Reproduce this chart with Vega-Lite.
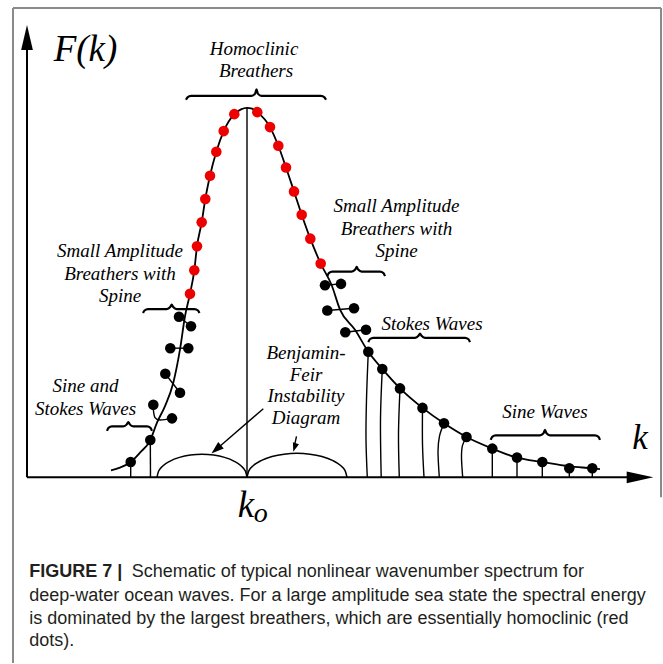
{
  "$schema": "https://vega.github.io/schema/vega-lite/v6.json",
  "width": 663,
  "height": 664,
  "autosize": {"type": "fit", "contains": "padding"},
  "padding": 0,
  "background": "white",
  "config": {"view": {"stroke": null}},
  "encoding": {
    "x": {"field": "k", "type": "quantitative", "scale": {"domain": [-2.7, 63.6], "nice": false, "zero": false}, "axis": null},
    "y": {"field": "F", "type": "quantitative", "scale": {"domain": [-18.6, 47.8], "nice": false, "zero": false}, "axis": null}
  },
  "layer": [
    {
      "data": {"values": [
        {"k": -1.4, "F": 47.0, "k2": -1.4, "F2": -18.6},
        {"k": -1.4, "F": 47.0, "k2": 63.4, "F2": 47.0},
        {"k": 63.4, "F": 47.0, "k2": 63.4, "F2": -2.0}
      ]},
      "mark": {"type": "rule", "color": "#8a8a8a", "strokeWidth": 2},
      "encoding": {"x2": {"field": "k2"}, "y2": {"field": "F2"}}
    },
    {
      "data": {"values": [
        {"k": 0, "F": 0, "k2": 0, "F2": 43.5},
        {"k": 0, "F": 0, "k2": 60.5, "F2": 0}
      ]},
      "mark": {"type": "rule", "color": "black", "strokeWidth": 2},
      "encoding": {"x2": {"field": "k2"}, "y2": {"field": "F2"}}
    },
    {
      "data": {"values": [
        {"k": 22, "F": 0, "k2": 22, "F2": 37},
        {"k": 10.37, "F": 0, "k2": 10.37, "F2": 1.53},
        {"k": 12.35, "F": 0, "k2": 12.33, "F2": 3.73},
        {"k": 46.53, "F": 0, "k2": 46.53, "F2": 2.87},
        {"k": 49.0, "F": 0, "k2": 49.0, "F2": 1.97},
        {"k": 51.53, "F": 0, "k2": 51.53, "F2": 1.53},
        {"k": 54.23, "F": 0, "k2": 54.23, "F2": 0.9},
        {"k": 56.53, "F": 0, "k2": 56.53, "F2": 0.9},
        {"k": 15.2, "F": 16.07, "k2": 16.4, "F2": 15.13},
        {"k": 14.33, "F": 12.93, "k2": 16.13, "F2": 12.93},
        {"k": 13.83, "F": 10.37, "k2": 15.3, "F2": 8.47},
        {"k": 29.8, "F": 19.23, "k2": 31.4, "F2": 19.37},
        {"k": 30.03, "F": 16.7, "k2": 32.7, "F2": 16.93},
        {"k": 31.83, "F": 14.53, "k2": 33.9, "F2": 14.77},
        {"k": 23.63, "F": 6.87, "k2": 19.23, "F2": 3.05},
        {"k": 26.95, "F": 4.1, "k2": 26.75, "F2": 3.2}
      ]},
      "mark": {"type": "rule", "color": "black", "strokeWidth": 1.4},
      "encoding": {"x2": {"field": "k2"}, "y2": {"field": "F2"}}
    },
    {
      "data": {"values": [
        {"k": 8.4, "F": 0.7}, {"k": 9.3, "F": 0.97}, {"k": 10.37, "F": 1.53}, {"k": 11.3, "F": 2.47},
        {"k": 12.33, "F": 3.73}, {"k": 13.0, "F": 5.47}, {"k": 13.8, "F": 7.13}, {"k": 14.63, "F": 9.47},
        {"k": 15.3, "F": 12.8}, {"k": 15.8, "F": 16.13}, {"k": 16.3, "F": 18.37}, {"k": 16.73, "F": 20.73},
        {"k": 17.0, "F": 23.13}, {"k": 17.47, "F": 25.53}, {"k": 17.83, "F": 27.87}, {"k": 18.3, "F": 30.2},
        {"k": 18.93, "F": 32.6}, {"k": 19.67, "F": 34.67}, {"k": 20.73, "F": 36.37}, {"k": 21.4, "F": 36.85},
        {"k": 22.0, "F": 37.0}, {"k": 22.5, "F": 36.92}, {"k": 23.03, "F": 36.57}, {"k": 24.3, "F": 35.07},
        {"k": 25.13, "F": 33.2}, {"k": 25.9, "F": 31.03}, {"k": 26.7, "F": 28.63}, {"k": 27.47, "F": 26.3},
        {"k": 28.33, "F": 23.9}, {"k": 29.37, "F": 21.4}, {"k": 30.47, "F": 19.23}, {"k": 31.3, "F": 16.8},
        {"k": 32.8, "F": 14.77}, {"k": 34.13, "F": 12.57}, {"k": 35.53, "F": 10.85}, {"k": 37.3, "F": 8.9},
        {"k": 39.55, "F": 6.95}, {"k": 41.7, "F": 5.4}, {"k": 43.95, "F": 4.03}, {"k": 46.53, "F": 2.87},
        {"k": 49.0, "F": 1.97}, {"k": 51.53, "F": 1.53}, {"k": 54.23, "F": 1.1}, {"k": 56.53, "F": 0.9},
        {"k": 57.3, "F": 0.82}
      ]},
      "mark": {"type": "line", "color": "black", "strokeWidth": 1.8, "interpolate": "monotone"}
    },
    {
      "data": {"values": [
        {"id": "A", "i": 0, "k": 15.9, "F": 37.8}, {"id": "A", "i": 1, "k": 16.05, "F": 38.05}, {"id": "A", "i": 2, "k": 16.4, "F": 38.2},
        {"id": "A", "i": 3, "k": 22.45, "F": 38.2}, {"id": "A", "i": 4, "k": 22.8, "F": 38.4}, {"id": "A", "i": 5, "k": 22.95, "F": 38.85},
        {"id": "A", "i": 6, "k": 23.1, "F": 38.4}, {"id": "A", "i": 7, "k": 23.45, "F": 38.2}, {"id": "A", "i": 8, "k": 29.4, "F": 38.2},
        {"id": "A", "i": 9, "k": 29.75, "F": 38.05}, {"id": "A", "i": 10, "k": 29.9, "F": 37.8},
        {"id": "B", "i": 0, "k": 11.6, "F": 16.45}, {"id": "B", "i": 1, "k": 11.75, "F": 16.7}, {"id": "B", "i": 2, "k": 12.1, "F": 16.85},
        {"id": "B", "i": 3, "k": 13.97, "F": 16.85}, {"id": "B", "i": 4, "k": 14.32, "F": 17.05}, {"id": "B", "i": 5, "k": 14.47, "F": 17.3},
        {"id": "B", "i": 6, "k": 14.62, "F": 17.05}, {"id": "B", "i": 7, "k": 14.97, "F": 16.85}, {"id": "B", "i": 8, "k": 16.75, "F": 16.85},
        {"id": "B", "i": 9, "k": 17.1, "F": 16.7}, {"id": "B", "i": 10, "k": 17.25, "F": 16.45},
        {"id": "C", "i": 0, "k": 8.0, "F": 4.65}, {"id": "C", "i": 1, "k": 8.15, "F": 4.95}, {"id": "C", "i": 2, "k": 8.5, "F": 5.1},
        {"id": "C", "i": 3, "k": 9.63, "F": 5.1}, {"id": "C", "i": 4, "k": 9.98, "F": 5.3}, {"id": "C", "i": 5, "k": 10.13, "F": 5.53},
        {"id": "C", "i": 6, "k": 10.28, "F": 5.3}, {"id": "C", "i": 7, "k": 10.63, "F": 5.1}, {"id": "C", "i": 8, "k": 12.0, "F": 5.1},
        {"id": "C", "i": 9, "k": 12.35, "F": 4.95}, {"id": "C", "i": 10, "k": 12.5, "F": 4.65},
        {"id": "D", "i": 0, "k": 30.03, "F": 20.15}, {"id": "D", "i": 1, "k": 30.18, "F": 20.45}, {"id": "D", "i": 2, "k": 30.53, "F": 20.6},
        {"id": "D", "i": 3, "k": 32.47, "F": 20.6}, {"id": "D", "i": 4, "k": 32.82, "F": 20.8}, {"id": "D", "i": 5, "k": 32.97, "F": 21.07},
        {"id": "D", "i": 6, "k": 33.12, "F": 20.8}, {"id": "D", "i": 7, "k": 33.47, "F": 20.6}, {"id": "D", "i": 8, "k": 35.3, "F": 20.6},
        {"id": "D", "i": 9, "k": 35.65, "F": 20.45}, {"id": "D", "i": 10, "k": 35.8, "F": 20.15},
        {"id": "E", "i": 0, "k": 34.13, "F": 13.53}, {"id": "E", "i": 1, "k": 34.28, "F": 13.82}, {"id": "E", "i": 2, "k": 34.63, "F": 13.97},
        {"id": "E", "i": 3, "k": 38.8, "F": 13.97}, {"id": "E", "i": 4, "k": 39.15, "F": 14.17}, {"id": "E", "i": 5, "k": 39.3, "F": 14.4},
        {"id": "E", "i": 6, "k": 39.45, "F": 14.17}, {"id": "E", "i": 7, "k": 39.8, "F": 13.97}, {"id": "E", "i": 8, "k": 43.8, "F": 13.97},
        {"id": "E", "i": 9, "k": 44.15, "F": 13.82}, {"id": "E", "i": 10, "k": 44.3, "F": 13.53},
        {"id": "G", "i": 0, "k": 46.37, "F": 3.75}, {"id": "G", "i": 1, "k": 46.52, "F": 4.05}, {"id": "G", "i": 2, "k": 46.87, "F": 4.2},
        {"id": "G", "i": 3, "k": 51.3, "F": 4.2}, {"id": "G", "i": 4, "k": 51.65, "F": 4.4}, {"id": "G", "i": 5, "k": 51.8, "F": 4.75},
        {"id": "G", "i": 6, "k": 51.95, "F": 4.4}, {"id": "G", "i": 7, "k": 52.3, "F": 4.2}, {"id": "G", "i": 8, "k": 56.8, "F": 4.2},
        {"id": "G", "i": 9, "k": 57.15, "F": 4.05}, {"id": "G", "i": 10, "k": 57.3, "F": 3.75}
      ]},
      "mark": {"type": "line", "color": "black", "strokeWidth": 2.2, "interpolate": "monotone"},
      "encoding": {"detail": {"field": "id"}, "order": {"field": "i"}}
    },
    {
      "data": {"values": [
        {"id": "L", "i": 0, "k": 13.0, "F": 0}, {"id": "L", "i": 1, "k": 13.153, "F": 0.595}, {"id": "L", "i": 2, "k": 13.603, "F": 1.15},
        {"id": "L", "i": 3, "k": 14.318, "F": 1.626}, {"id": "L", "i": 4, "k": 15.25, "F": 1.992}, {"id": "L", "i": 5, "k": 16.335, "F": 2.222},
        {"id": "L", "i": 6, "k": 17.5, "F": 2.3}, {"id": "L", "i": 7, "k": 18.665, "F": 2.222}, {"id": "L", "i": 8, "k": 19.75, "F": 1.992},
        {"id": "L", "i": 9, "k": 20.682, "F": 1.626}, {"id": "L", "i": 10, "k": 21.397, "F": 1.15}, {"id": "L", "i": 11, "k": 21.847, "F": 0.595},
        {"id": "L", "i": 12, "k": 22.0, "F": 0},
        {"id": "R", "i": 0, "k": 22.0, "F": 0}, {"id": "R", "i": 1, "k": 22.17, "F": 0.621}, {"id": "R", "i": 2, "k": 22.67, "F": 1.2},
        {"id": "R", "i": 3, "k": 23.464, "F": 1.697}, {"id": "R", "i": 4, "k": 24.5, "F": 2.078}, {"id": "R", "i": 5, "k": 25.706, "F": 2.318},
        {"id": "R", "i": 6, "k": 27.0, "F": 2.4}, {"id": "R", "i": 7, "k": 28.294, "F": 2.318}, {"id": "R", "i": 8, "k": 29.5, "F": 2.078},
        {"id": "R", "i": 9, "k": 30.536, "F": 1.697}, {"id": "R", "i": 10, "k": 31.33, "F": 1.2}, {"id": "R", "i": 11, "k": 31.83, "F": 0.621},
        {"id": "R", "i": 12, "k": 32.0, "F": 0}
      ]},
      "mark": {"type": "line", "color": "black", "strokeWidth": 1.5, "interpolate": "monotone"},
      "encoding": {"detail": {"field": "id"}, "order": {"field": "i"}}
    },
    {
      "data": {"values": [
        {"id": "s1", "i": 0, "k": 34.13, "F": 12.57}, {"id": "s1", "i": 1, "k": 33.95, "F": 7.8}, {"id": "s1", "i": 2, "k": 33.9, "F": 3.8}, {"id": "s1", "i": 3, "k": 34.03, "F": 0},
        {"id": "s2", "i": 0, "k": 35.53, "F": 10.85}, {"id": "s2", "i": 1, "k": 35.35, "F": 5.8}, {"id": "s2", "i": 2, "k": 35.42, "F": 0},
        {"id": "s3", "i": 0, "k": 37.3, "F": 8.9}, {"id": "s3", "i": 1, "k": 37.15, "F": 4.3}, {"id": "s3", "i": 2, "k": 37.23, "F": 0},
        {"id": "s4", "i": 0, "k": 39.55, "F": 6.95}, {"id": "s4", "i": 1, "k": 39.55, "F": 3.3}, {"id": "s4", "i": 2, "k": 39.7, "F": 0},
        {"id": "s5", "i": 0, "k": 41.7, "F": 5.4}, {"id": "s5", "i": 1, "k": 41.25, "F": 4.13}, {"id": "s5", "i": 2, "k": 41.1, "F": 2.6}, {"id": "s5", "i": 3, "k": 41.23, "F": 0},
        {"id": "s6", "i": 0, "k": 43.95, "F": 4.03}, {"id": "s6", "i": 1, "k": 43.55, "F": 3.2}, {"id": "s6", "i": 2, "k": 43.45, "F": 2.0}, {"id": "s6", "i": 3, "k": 43.57, "F": 0},
        {"id": "sp", "i": 0, "k": 12.63, "F": 7.27}, {"id": "sp", "i": 1, "k": 12.63, "F": 6.8}, {"id": "sp", "i": 2, "k": 12.8, "F": 5.97}, {"id": "sp", "i": 3, "k": 13.3, "F": 5.73}, {"id": "sp", "i": 4, "k": 14.5, "F": 5.9}
      ]},
      "mark": {"type": "line", "color": "black", "strokeWidth": 1.4, "interpolate": "cardinal"},
      "encoding": {"detail": {"field": "id"}, "order": {"field": "i"}}
    },
    {
      "data": {"values": [
        {"kind": "homoclinic", "k": 20.73, "F": 36.37}, {"kind": "homoclinic", "k": 19.67, "F": 34.67}, {"kind": "homoclinic", "k": 18.93, "F": 32.6},
        {"kind": "homoclinic", "k": 18.3, "F": 30.2}, {"kind": "homoclinic", "k": 17.83, "F": 27.87}, {"kind": "homoclinic", "k": 17.47, "F": 25.53},
        {"kind": "homoclinic", "k": 17.0, "F": 23.13}, {"kind": "homoclinic", "k": 16.73, "F": 20.73}, {"kind": "homoclinic", "k": 16.3, "F": 18.37},
        {"kind": "homoclinic", "k": 23.03, "F": 36.57}, {"kind": "homoclinic", "k": 24.3, "F": 35.07}, {"kind": "homoclinic", "k": 25.13, "F": 33.2},
        {"kind": "homoclinic", "k": 25.9, "F": 31.03}, {"kind": "homoclinic", "k": 26.7, "F": 28.63}, {"kind": "homoclinic", "k": 27.47, "F": 26.3},
        {"kind": "homoclinic", "k": 28.33, "F": 23.9}, {"kind": "homoclinic", "k": 29.37, "F": 21.4},
        {"kind": "other", "k": 15.2, "F": 16.07}, {"kind": "other", "k": 16.4, "F": 15.13}, {"kind": "other", "k": 14.33, "F": 12.93},
        {"kind": "other", "k": 16.13, "F": 12.93}, {"kind": "other", "k": 13.83, "F": 10.37}, {"kind": "other", "k": 15.3, "F": 8.47},
        {"kind": "other", "k": 12.63, "F": 7.27}, {"kind": "other", "k": 14.5, "F": 5.9}, {"kind": "other", "k": 12.33, "F": 3.73},
        {"kind": "other", "k": 10.37, "F": 1.53},
        {"kind": "other", "k": 29.8, "F": 19.23}, {"kind": "other", "k": 31.4, "F": 19.37}, {"kind": "other", "k": 30.03, "F": 16.7},
        {"kind": "other", "k": 32.7, "F": 16.93}, {"kind": "other", "k": 31.83, "F": 14.53}, {"kind": "other", "k": 33.9, "F": 14.77},
        {"kind": "other", "k": 34.13, "F": 12.57}, {"kind": "other", "k": 35.53, "F": 10.85}, {"kind": "other", "k": 37.3, "F": 8.9},
        {"kind": "other", "k": 39.55, "F": 6.95}, {"kind": "other", "k": 41.7, "F": 5.4}, {"kind": "other", "k": 43.95, "F": 4.03},
        {"kind": "other", "k": 46.53, "F": 2.87}, {"kind": "other", "k": 49.0, "F": 1.97}, {"kind": "other", "k": 51.53, "F": 1.53},
        {"kind": "other", "k": 54.23, "F": 0.9}, {"kind": "other", "k": 56.53, "F": 0.9}
      ]},
      "mark": {"type": "circle", "size": 112, "opacity": 1},
      "encoding": {"color": {"field": "kind", "type": "nominal", "scale": {"domain": ["homoclinic", "other"], "range": ["#ee0000", "#000000"]}, "legend": null}}
    },
    {
      "data": {"values": [{"k": 0, "F": 44.05}]},
      "mark": {"type": "point", "filled": true, "opacity": 1, "color": "black", "shape": "M0,-1L0.47,1L-0.47,1Z", "size": 625, "angle": 0}
    },
    {
      "data": {"values": [{"k": 61.3, "F": 0}]},
      "mark": {"type": "point", "filled": true, "opacity": 1, "color": "black", "shape": "M0,-1L0.44,1L-0.44,1Z", "size": 711, "angle": 90}
    },
    {
      "data": {"values": [{"k": 18.92, "F": 2.79}]},
      "mark": {"type": "point", "filled": true, "opacity": 1, "color": "black", "shape": "M0,-1L0.67,1L-0.67,1Z", "size": 160, "angle": 229}
    },
    {
      "data": {"values": [{"k": 26.76, "F": 2.98}]},
      "mark": {"type": "point", "filled": true, "opacity": 1, "color": "black", "shape": "M0,-1L0.7,1L-0.7,1Z", "size": 81, "angle": 197}
    },
    {
      "data": {"values": [
        {"k": 22.7, "F": 42.3, "t": "Homoclinic"},
        {"k": 22.9, "F": 40.1, "t": "Breathers"},
        {"k": 9.3, "F": 22.05, "t": "Small Amplitude"},
        {"k": 9.3, "F": 19.8, "t": "Breathers with"},
        {"k": 9.3, "F": 17.55, "t": "Spine"},
        {"k": 36.95, "F": 26.6, "t": "Small Amplitude"},
        {"k": 36.95, "F": 24.3, "t": "Breathers with"},
        {"k": 36.95, "F": 22.1, "t": "Spine"},
        {"k": 5.85, "F": 8.5, "t": "Sine and"},
        {"k": 5.85, "F": 6.23, "t": "Stokes Waves"},
        {"k": 27.9, "F": 11.8, "t": "Benjamin-"},
        {"k": 27.9, "F": 9.65, "t": "Feir"},
        {"k": 27.9, "F": 7.5, "t": "Instability"},
        {"k": 27.9, "F": 5.35, "t": "Diagram"},
        {"k": 40.5, "F": 14.8, "t": "Stokes Waves"},
        {"k": 51.8, "F": 5.9, "t": "Sine Waves"}
      ]},
      "mark": {"type": "text", "font": "Liberation Serif", "fontStyle": "italic", "fontSize": 19, "align": "center", "baseline": "alphabetic", "color": "black"},
      "encoding": {"text": {"field": "t"}}
    },
    {
      "data": {"values": [
        {"k": 5.85, "F": 41.7, "t": "F(k)"}
      ]},
      "mark": {"type": "text", "font": "Liberation Serif", "fontStyle": "italic", "fontSize": 37, "align": "center", "baseline": "alphabetic", "color": "black"},
      "encoding": {"text": {"field": "t"}}
    },
    {
      "data": {"values": [
        {"k": 61.3, "F": 2.8, "t": "k"}
      ]},
      "mark": {"type": "text", "font": "Liberation Serif", "fontStyle": "italic", "fontSize": 35, "align": "center", "baseline": "alphabetic", "color": "black"},
      "encoding": {"text": {"field": "t"}}
    },
    {
      "data": {"values": [{"k": 21.9, "F": -4.0, "t": "k"}]},
      "mark": {"type": "text", "font": "Liberation Serif", "fontStyle": "italic", "fontSize": 37, "align": "center", "baseline": "alphabetic", "color": "black"},
      "encoding": {"text": {"field": "t"}}
    },
    {
      "data": {"values": [{"k": 23.38, "F": -4.5, "t": "o"}]},
      "mark": {"type": "text", "font": "Liberation Serif", "fontStyle": "italic", "fontSize": 28, "align": "center", "baseline": "alphabetic", "color": "black"},
      "encoding": {"text": {"field": "t"}}
    },
    {
      "data": {"values": [{"k": 0.23, "F": -10.03, "t": "FIGURE 7 |"}]},
      "mark": {"type": "text", "font": "Liberation Sans", "fontWeight": "bold", "fontSize": 18, "align": "left", "baseline": "alphabetic", "color": "#231f20"},
      "encoding": {"text": {"field": "t"}}
    },
    {
      "data": {"values": [
        {"k": 10.47, "F": -10.03, "t": "Schematic of typical nonlinear wavenumber spectrum for"},
        {"k": 0.23, "F": -12.37, "t": "deep-water ocean waves. For a large amplitude sea state the spectral energy"},
        {"k": 0.23, "F": -14.7, "t": "is dominated by the largest breathers, which are essentially homoclinic (red"},
        {"k": 0.23, "F": -16.93, "t": "dots)."}
      ]},
      "mark": {"type": "text", "font": "Liberation Sans", "fontSize": 18, "align": "left", "baseline": "alphabetic", "color": "#231f20"},
      "encoding": {"text": {"field": "t"}}
    }
  ]
}
